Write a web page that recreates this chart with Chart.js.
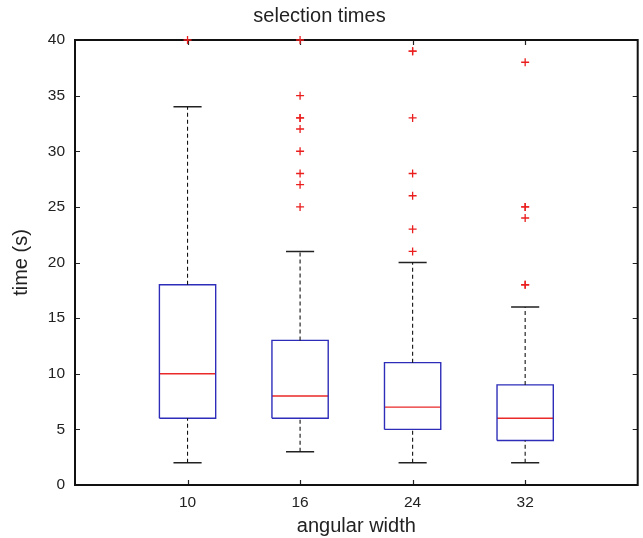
<!DOCTYPE html>
<html>
<head>
<meta charset="utf-8">
<script src="https://cdn.jsdelivr.net/npm/chart.js@4"></script>
<style>
  html, body { margin: 0; padding: 0; background: #fff; }
  canvas { display: block; }
</style>
</head>
<body>
<canvas id="chart" width="643" height="538"></canvas>
<script>
// box plot stats per angular width
const groups = ['10', '16', '24', '32'];
const whiskerLow = [2, 3, 2, 2];
const q1 = [6, 6, 5, 4];
const medians = [10, 8, 7, 6];
const q3 = [18, 13, 11, 9];
const whiskerHigh = [34, 21, 20, 16];
const outliers = [
    [40],
    [25, 27, 28, 30, 32, 33, 33, 35, 40],
    [21, 23, 26, 28, 33, 39, 39],
    [18, 18, 24, 25, 25, 38]
];
const yTicks = [0, 5, 10, 15, 20, 25, 30, 35, 40];

const FONT = "'Liberation Sans', Arial, Helvetica, sans-serif";
const boxHalf = 0.25;
const capHalf = 0.125;

// build line segments, separated by null points so each piece stands alone
const boxPts = [], medianPts = [], whiskerPts = [], capPts = [], outlierPts = [];
groups.forEach((g, i) => {
    const x = i + 1;
    boxPts.push(
        {x: x - boxHalf, y: q1[i]}, {x: x + boxHalf, y: q1[i]},
        {x: x + boxHalf, y: q3[i]}, {x: x - boxHalf, y: q3[i]},
        {x: x - boxHalf, y: q1[i]}, {x: x, y: null});
    medianPts.push({x: x - boxHalf, y: medians[i]}, {x: x + boxHalf, y: medians[i]}, {x: x, y: null});
    whiskerPts.push({x: x, y: q3[i]}, {x: x, y: whiskerHigh[i]}, {x: x, y: null},
        {x: x, y: whiskerLow[i]}, {x: x, y: q1[i]}, {x: x, y: null});
    capPts.push({x: x - capHalf, y: whiskerHigh[i]}, {x: x + capHalf, y: whiskerHigh[i]}, {x: x, y: null},
        {x: x - capHalf, y: whiskerLow[i]}, {x: x + capHalf, y: whiskerLow[i]}, {x: x, y: null});
    outliers[i].forEach(v => outlierPts.push({x: x, y: v}));
});

const lineSet = (data, color, width, dash) => ({
    type: 'scatter',
    data: data,
    showLine: true,
    spanGaps: false,
    borderColor: color,
    borderWidth: width,
    borderDash: dash || [],
    pointRadius: 0,
    fill: false,
    tension: 0
});

// matlab-ish frame with inward ticks on all four sides
const frame = {
    id: 'frame',
    beforeDatasetsDraw(chart) {
        const {ctx, chartArea: a, scales: {x, y}} = chart;
        const len = 5;
        ctx.save();
        ctx.strokeStyle = '#222';
        ctx.lineWidth = 1.2;
        ctx.beginPath();
        yTicks.forEach(v => {
            const py = Math.round(y.getPixelForValue(v)) + 0.5;
            ctx.moveTo(a.left, py); ctx.lineTo(a.left + len, py);
            ctx.moveTo(a.right, py); ctx.lineTo(a.right - len, py);
        });
        groups.forEach((g, i) => {
            const px = Math.round(x.getPixelForValue(i + 1)) + 0.5;
            ctx.moveTo(px, a.bottom); ctx.lineTo(px, a.bottom - len);
            ctx.moveTo(px, a.top); ctx.lineTo(px, a.top + len);
        });
        ctx.stroke();
        ctx.lineWidth = 2;
        ctx.strokeStyle = '#111';
        ctx.strokeRect(a.left, a.top, a.right - a.left, a.bottom - a.top);
        ctx.restore();
    }
};

new Chart(document.getElementById('chart').getContext('2d'), {
    type: 'scatter',
    data: {
        datasets: [
            lineSet(whiskerPts, '#111', 1.1, [4, 3]),
            lineSet(capPts, '#222', 1.5),
            lineSet(boxPts, 'rgb(45,45,185)', 1.4),
            lineSet(medianPts, 'rgb(235,40,40)', 1.4),
            {
                type: 'scatter',
                data: outlierPts,
                pointStyle: 'cross',
                pointRadius: 4,
                pointBorderWidth: 1.3,
                pointBorderColor: 'rgb(235,30,30)',
                pointBackgroundColor: 'rgb(235,30,30)',
                showLine: false,
                clip: false
            }
        ]
    },
    options: {
        responsive: false,
        animation: false,
        layout: { padding: { left: 0, right: 4, top: 0, bottom: 0 } },
        plugins: {
            legend: { display: false },
            tooltip: { enabled: false },
            title: {
                display: true,
                text: 'selection times',
                color: '#222',
                font: { family: FONT, size: 20, weight: 'normal' },
                padding: { top: 4, bottom: 12 }
            }
        },
        scales: {
            x: {
                type: 'linear',
                min: 0,
                max: 5,
                afterBuildTicks: s => { s.ticks = groups.map((g, i) => ({value: i + 1})); },
                afterFit: s => { s.height = 53; },
                ticks: {
                    callback: (v, i) => groups[i],
                    color: '#222',
                    font: { family: FONT, size: 15.5 },
                    padding: 8,
                    autoSkip: false,
                    maxRotation: 0
                },
                grid: { display: false, drawTicks: false },
                border: { display: false },
                title: {
                    display: true,
                    text: 'angular width',
                    color: '#222',
                    font: { family: FONT, size: 20 },
                    padding: { top: 0, bottom: 0 }
                }
            },
            y: {
                min: 0,
                max: 40,
                afterBuildTicks: s => { s.ticks = yTicks.map(v => ({value: v})); },
                afterFit: s => { s.width = 75; },
                ticks: {
                    color: '#222',
                    font: { family: FONT, size: 15.5 },
                    padding: 10
                },
                grid: { display: false, drawTicks: false },
                border: { display: false },
                title: {
                    display: true,
                    text: 'time (s)',
                    color: '#222',
                    font: { family: FONT, size: 20 },
                    padding: { top: 9, bottom: 0 }
                }
            }
        }
    },
    plugins: [frame]
});
</script>
</body>
</html>
